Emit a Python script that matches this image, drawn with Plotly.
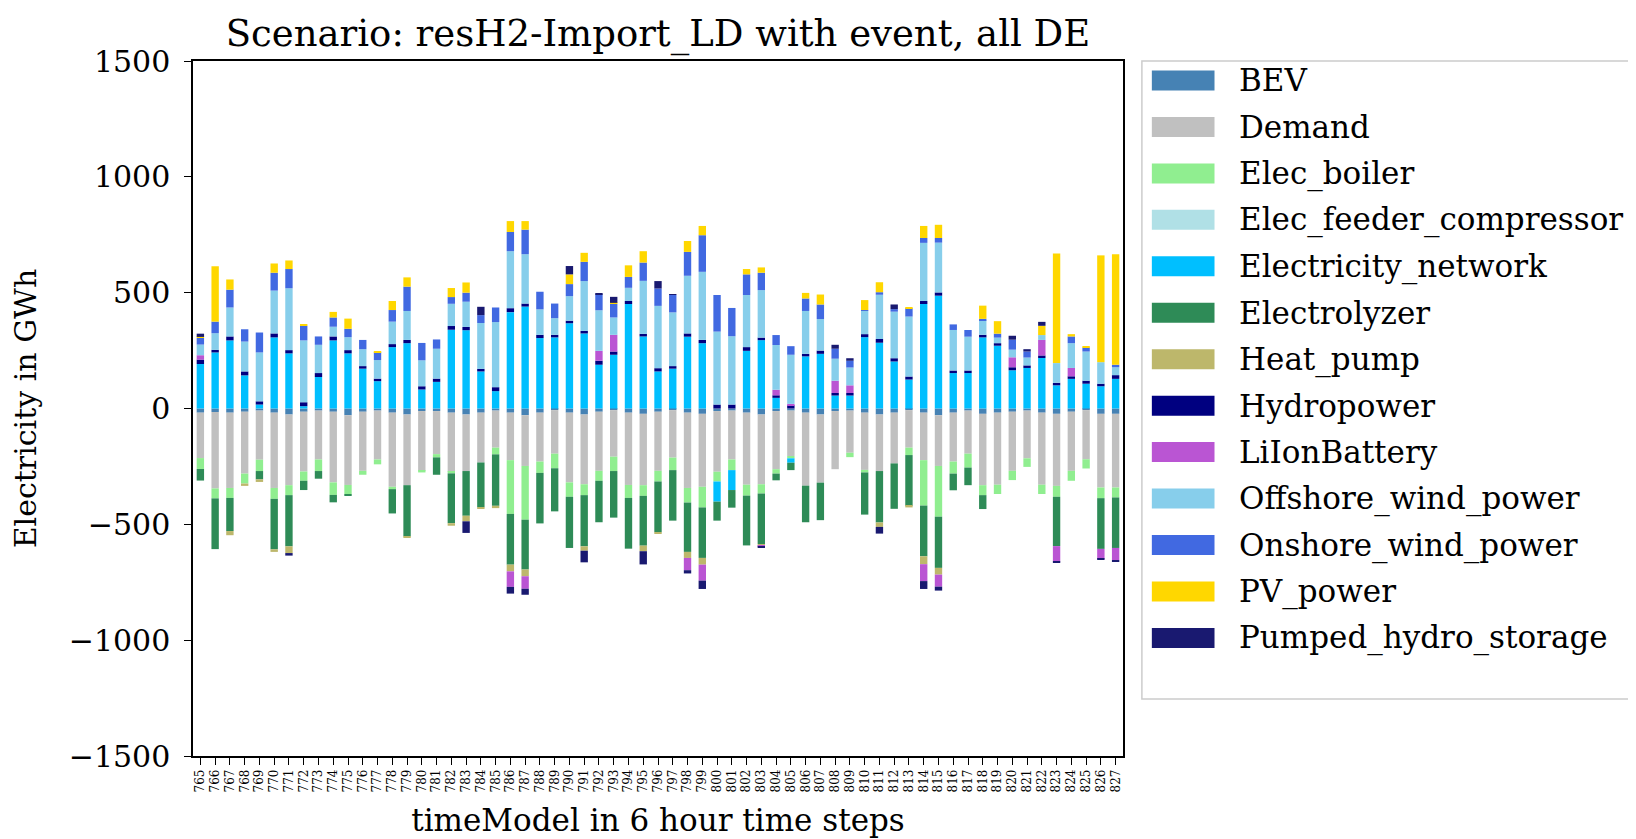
import plotly.graph_objects as go

steps = [str(s) for s in range(765, 828)]

series_names = ["BEV", "Demand", "Elec_boiler", "Elec_feeder_compressor", "Electricity_network",
                "Electrolyzer", "Heat_pump", "Hydropower", "LiIonBattery", "Offshore_wind_power",
                "Onshore_wind_power", "PV_power", "Pumped_hydro_storage"]
series_colors = ["#4682B4", "#C0C0C0", "#90EE90", "#B0E0E6", "#00BFFF", "#2E8B57", "#BDB76B",
                 "#000080", "#BA55D3", "#87CEEB", "#4169E1", "#FFD700", "#191970"]

BEV = [-18, -15, -18, -14, -9, -18, -26, -14, -9, -14, -29, -14, -9, -18, -26, -11, -11, -18, -26, -18, -9,
       -18, -29, -18, -7, -18, -26, -14, -7, -18, -23, -14, -7, -18, -23, -11, -9, -18, -26, -11, -9,
       -18, -26, -11, -9, -18, -26, -18, -7, -18, -29, -18, -9, -23, -18, -14, -9, -18, -23, -14, -7, -23, -23]
Demand = [-196, -330, -325, -267, -212, -325, -305, -258, -211, -305, -301, -255, -211, -320, -305, -258, -186, -255, -244, -215, -160,
          -205, -219, -211, -188, -301, -301, -255, -201, -312, -308, -255, -205, -325, -315, -262, -211, -311, -301, -251, -196,
          -315, -294, -251, -182, -247, -244, -219, -162, -205, -219, -211, -186, -308, -311, -255, -206, -311, -311, -255, -212, -318, -318]
Elec_boiler = [-47, -43, -43, -43, -49, -47, -43, -40, -50, -54, -40, -17, -21, -10, 0, -7, -14, -7, 0, 0, -29,
               -232, -232, -49, -63, -62, -47, -43, -62, -56, -46, -46, -54, -63, -89, -42, -46, -47, -40, -19, -10,
               0, 0, 0, -19, -11, 0, 0, -32, -196, -219, -52, -60, -43, -40, -40, -37, -40, -47, -43, -40, -46, -43]
Elec_feeder_compressor = [0] * 63
Electricity_network = [192, 242, 294, 143, 17, 307, 238, 10, 136, 294, 238, 172, 118, 265, 282, 82, 115, 340, 338, 160, 75,
                       416, 440, 304, 307, 368, 324, 189, 232, 451, 311, 160, 172, 310, 282, -87, -86, 249, 295, 46, -19,
                       225, 236, 56, 56, 308, 284, 203, 125, 451, 487, 153, 153, 307, 271, 165, 175, 218, 100, 128, 107, 96, 128]
Electrolyzer = [-50, -219, -143, 0, -36, -218, -221, -40, -33, -32, -7, 0, 0, -105, -221, 0, -75, -215, -193, -193, -222,
                -219, -215, -218, -186, -221, -221, -179, -201, -219, -215, -219, -218, -213, -218, -82, -76, -215, -218, -29, -32,
                -158, -162, 0, 0, -182, -222, -196, -219, -219, -221, -72, -76, -60, 0, 0, 0, 0, -213, 0, 0, -219, -218]
Heat_pump = [0, 0, -18, -10, -11, -11, -29, 0, 0, 0, 0, 0, 0, 0, -4, 0, 0, -11, -24, -7, -10,
             -29, -29, 0, 0, 0, -19, 0, 0, 0, -24, -7, 0, -26, -29, 0, 0, 0, -7, 0, 0,
             0, 0, 0, 0, 0, -19, 0, -7, -34, -29, 0, 0, 0, 0, 0, 0, 0, 0, 0, 0, 0, 0]
Hydropower = [19, 11, 17, 17, 14, 17, 14, 17, 17, 17, 14, 11, 11, 13, 14, 14, 14, 16, 14, 11, 17,
              17, 13, 14, 11, 11, 11, 17, 14, 13, 11, 14, 11, 14, 14, 17, 17, 16, 11, 11, 14,
              11, 14, 11, 11, 13, 16, 14, 13, 13, 14, 11, 11, 11, 11, 13, 11, 11, 11, 11, 13, 11, 16]
LiIonBattery = [19, 0, 0, 0, 0, 0, 0, 0, 0, 0, 0, 0, 0, 0, 0, 0, 0, 0, 0, 0, 0,
                -67, -54, 0, 0, 0, 0, 43, 72, 0, 0, 0, 0, -53, -69, 0, 0, 0, -4, 24, 6,
                0, 0, 53, 33, 0, 0, 0, 0, -73, -52, 0, 0, 0, 0, 43, 0, 67, -66, 36, 0, -43, -52]
Offshore_wind_power = [46, 72, 125, 129, 211, 185, 267, 267, 122, 42, 56, 73, 80, 97, 125, 112, 129, 96, 109, 198, 281,
                       246, 213, 110, 72, 106, 215, 175, 75, 57, 229, 269, 232, 249, 294, 315, 295, 225, 205, 193, 212,
                       185, 136, 95, 77, 100, 191, 201, 259, 251, 215, 175, 146, 62, 24, 33, 34, 21, 85, 107, 126, 93, 34]
Onshore_wind_power = [29, 50, 77, 53, 86, 77, 83, 63, 36, 40, 36, 40, 34, 50, 105, 75, 40, 29, 39, 34, 63,
                      83, 106, 76, 63, 52, 83, 69, 59, 47, 79, 75, 75, 103, 158, 158, 122, 89, 75, 43, 37,
                      54, 63, 43, 29, 4, 11, 11, 36, 21, 20, 24, 29, 7, 17, 43, 26, 0, 0, 29, 17, 0, 11]
PV_power = [4, 239, 44, 0, 0, 40, 37, 4, 0, 24, 44, 0, 4, 39, 40, 0, 0, 39, 44, 0, 0,
            47, 37, 0, 0, 42, 39, 0, 4, 50, 49, 0, 0, 47, 40, 0, 0, 23, 23, 0, 0,
            24, 43, 0, 0, 43, 43, 0, 3, 52, 57, 0, 0, 57, 54, 0, 0, 40, 473, 10, 4, 461, 477]
Pumped_hydro_storage = [14, 0, 0, 0, 0, 0, -11, 0, 0, 0, 0, 0, 0, 0, 0, 0, 0, 0, -50, 36, 0,
                        -29, -26, 0, 0, 36, -50, 4, 26, 0, -57, 32, 4, -14, -36, 0, 0, 0, -6, 0, 0,
                        0, 0, 17, 11, 0, -29, 20, 0, -34, -17, 0, 0, 0, 0, 17, 10, 17, -7, 0, 0, -4, -6]

series_values = [BEV, Demand, Elec_boiler, Elec_feeder_compressor, Electricity_network, Electrolyzer,
                 Heat_pump, Hydropower, LiIonBattery, Offshore_wind_power, Onshore_wind_power,
                 PV_power, Pumped_hydro_storage]

FONT = "DejaVu Serif"
W, H = 1636, 839
L, R, T, B = 180, 1115, 53, 748   # plot area in pixels

fig = go.Figure()
for name, color, vals in zip(series_names, series_colors, series_values):
    fig.add_trace(go.Bar(x=steps, y=vals, name=name, marker=dict(color=color, line=dict(width=0)),
                         showlegend=False))

def px_x(p):
    return (p - L) / (R - L)

def px_y(p):
    return (B - p) / (B - T)

# legend drawn as box + swatches + labels
shapes = [dict(type="rect", xref="paper", yref="paper",
               x0=px_x(1134), x1=px_x(1640), y0=px_y(691), y1=px_y(53),
               line=dict(color="#CCCCCC", width=1.5), fillcolor="rgba(255,255,255,0.8)", layer="above")]
annotations = []
for k, (name, color) in enumerate(zip(series_names, series_colors)):
    cy = 72.5 + k * 46.45
    shapes.append(dict(type="rect", xref="paper", yref="paper",
                       x0=px_x(1144), x1=px_x(1207), y0=px_y(cy + 10), y1=px_y(cy - 10),
                       line=dict(width=0), fillcolor=color, layer="above"))
    annotations.append(dict(text=name, xref="paper", yref="paper", x=px_x(1230), y=px_y(cy),
                            xanchor="left", yanchor="middle", showarrow=False,
                            font=dict(family=FONT, size=31, color="black")))

fig.update_layout(
    width=W, height=H,
    margin=dict(l=L, r=W - R, t=T, b=H - B, pad=0),
    paper_bgcolor="white", plot_bgcolor="white",
    barmode="relative", bargap=0.5,
    font=dict(family=FONT, color="black"),
    title=dict(text="Scenario: resH2-Import_LD with event, all DE", xref="paper", x=0.5,
               xanchor="center", yref="container", y=1 - 25 / H, yanchor="middle",
               font=dict(family=FONT, size=37, color="black")),
    xaxis=dict(type="category", showline=True, linecolor="black", linewidth=1.5, mirror=True,
               ticks="outside", ticklen=7, tickwidth=1.2, tickcolor="black", tickangle=-90,
               tickmode="array", tickvals=steps, ticktext=steps,
               tickfont=dict(family=FONT, size=12, color="black"), showgrid=False,
               title=dict(text="timeModel in 6 hour time steps", standoff=18,
                          font=dict(family=FONT, size=31, color="black"))),
    yaxis=dict(range=[-1500, 1500], tickvals=[-1500, -1000, -500, 0, 500, 1000, 1500],
               showline=True, linecolor="black", linewidth=1.5, mirror=True,
               ticks="outside", ticklen=7, tickwidth=1.2, tickcolor="black",
               tickfont=dict(family=FONT, size=30, color="black"), showgrid=False, zeroline=False,
               ticklabelstandoff=8,
               title=dict(text="Electricity in GWh", standoff=28,
                          font=dict(family=FONT, size=30, color="black"))),
    shapes=shapes, annotations=annotations,
)

fig.write_html("out.html")
